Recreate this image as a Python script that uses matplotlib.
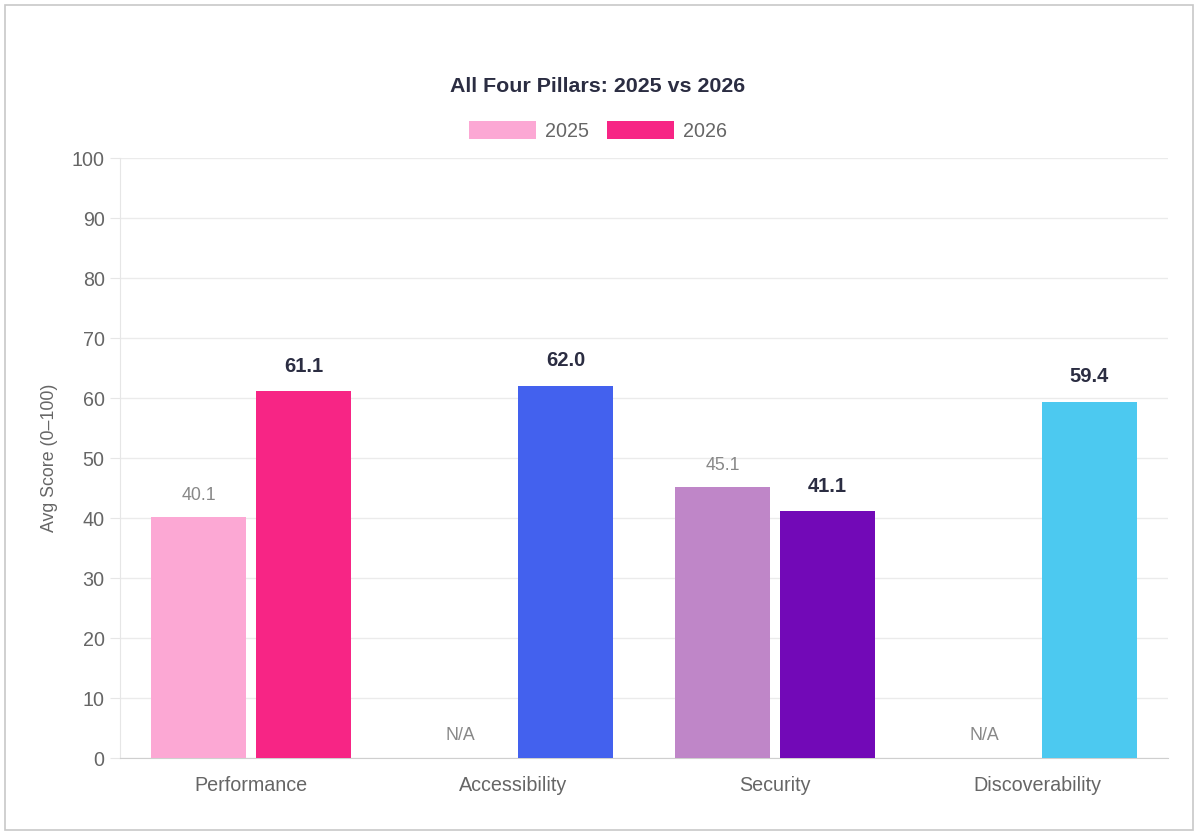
import numpy as np
import matplotlib.pyplot as plt
from matplotlib.patches import Patch, Rectangle

plt.rcParams['font.family'] = ['Liberation Sans', 'DejaVu Sans']

# -----------------------------
# Data
# -----------------------------
pillars = ["Performance", "Accessibility", "Security", "Discoverability"]
scores_2025 = [40.1, None, 45.1, None]
scores_2026 = [61.1, 62.0, 41.1, 59.4]

colors_2025 = ["#fca8d4", "#a9b7f6", "#bf86c8", "#a6e4f7"]
colors_2026 = ["#f72585", "#4361ee", "#7209b7", "#4cc9f0"]

TITLE = "All Four Pillars: 2025 vs 2026"
YLABEL = "Avg Score (0\u2013100)"

# -----------------------------
# Figure
# -----------------------------
fig = plt.figure(figsize=(12, 8.36), dpi=100)
fig.patches.append(Rectangle((5 / 1200, 6 / 836), 1188 / 1200, 825 / 836,
                             transform=fig.transFigure, fill=False,
                             edgecolor="#c8c8c8", linewidth=1.2))
ax = fig.add_axes([0.1, 0.0933, 0.8733, 0.7177])

x = np.arange(len(pillars))
bw = 0.36
off = 0.2

for i in range(len(pillars)):
    v25 = scores_2025[i]
    v26 = scores_2026[i]
    if v25 is not None:
        ax.bar(x[i] - off, v25, bw, color=colors_2025[i], zorder=3)
        ax.text(x[i] - off, v25 + 3.7, f"{v25:.1f}", ha="center", va="center",
                fontsize=12.8, color="#888888")
    else:
        ax.text(x[i] - off, 3.8, "N/A", ha="center", va="center",
                fontsize=12.8, color="#888888")
    ax.bar(x[i] + off, v26, bw, color=colors_2026[i], zorder=3)
    ax.text(x[i] + off, v26 + 4.2, f"{v26:.1f}", ha="center", va="center",
            fontsize=14.5, fontweight="bold", color="#2b2d42")

ax.set_xlim(-0.5, len(pillars) - 0.5)
ax.set_ylim(0, 100)
ax.set_yticks(np.arange(0, 101, 10))
ax.set_xticks(x)
ax.set_xticklabels(pillars)
ax.tick_params(axis="x", length=0, pad=13, labelsize=14.2, labelcolor="#666666")
ax.tick_params(axis="y", length=7, pad=4, labelsize=14.2, labelcolor="#666666",
               color="#e6e6e6")
ax.grid(axis="y", color="#ebebeb", linewidth=1, zorder=0)

for s in ["top", "right"]:
    ax.spines[s].set_visible(False)
ax.spines["left"].set_color("#e6e6e6")
ax.spines["bottom"].set_color("#cfcfcf")

ax.set_ylabel(YLABEL, fontsize=12.8, color="#666666", labelpad=10)

fig.text(598 / 1200, 1 - 86 / 836, TITLE, ha="center", va="center",
         fontsize=15.4, fontweight="bold", color="#2b2d42")

handles = [Patch(facecolor=colors_2025[0], label="2025"),
           Patch(facecolor=colors_2026[0], label="2026")]
fig.legend(handles=handles, loc="center", bbox_to_anchor=(598 / 1200, 1 - 131 / 836),
           ncol=2, frameon=False, fontsize=14.2, labelcolor="#666666",
           handlelength=3.4, handleheight=1.0, handletextpad=0.45, columnspacing=0.9)

fig.savefig("out.png", dpi=100, facecolor="white")
